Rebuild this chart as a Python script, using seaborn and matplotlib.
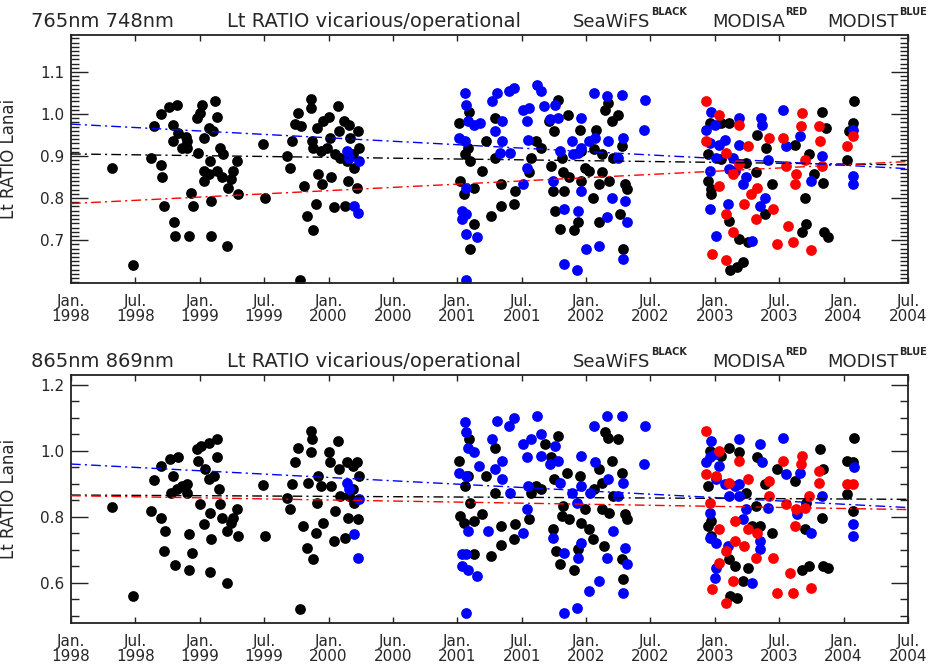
import matplotlib
matplotlib.use("Agg")
import matplotlib.pyplot as plt
import pandas as pd
import seaborn as sns
from matplotlib.ticker import MultipleLocator, FixedLocator, FormatStrFormatter

sns.set_style("white")
plt.rcParams['font.family'] = ['DejaVu Sans']
plt.rcParams['mathtext.fontset'] = 'dejavusans'

# ---------------- tick labels ----------------
tick_years = [1998.0, 1998.5, 1999.0, 1999.5, 2000.0, 2000.5, 2001.0,
              2001.5, 2002.0, 2002.5, 2003.0, 2003.5, 2004.0, 2004.5]
tick_labels = ["Jan.\n1998", "Jul.\n1998", "Jan.\n1999", "Jul.\n1999", "Jan.\n2000",
               "Jun.\n2000", "Jan.\n2001", "Jul.\n2001", "Jan.\n2002", "Jul.\n2002",
               "Jan.\n2003", "Jul.\n2003", "Jan.\n2004", "Jul.\n2004"]

# ---------------- top panel (765nm 748nm) ----------------
top_seawifs = [
    (1998.32, 0.871), (1998.48, 0.640), (1998.62, 0.896), (1998.645, 0.972), (1998.70, 0.879),
    (1998.70, 1.000), (1998.71, 0.849), (1998.72, 0.782), (1998.76, 1.017), (1998.79, 0.975),
    (1998.82, 1.022), (1998.79, 0.935), (1998.80, 0.742), (1998.81, 0.711), (1998.83, 0.955),
    (1998.86, 0.920), (1998.90, 0.935), (1998.93, 0.813), (1998.945, 0.782), (1998.92, 0.711),
    (1998.98, 0.990), (1998.99, 0.908), (1999.00, 1.002), (1999.02, 1.022), (1999.03, 0.943),
    (1999.03, 0.841), (1999.07, 0.967), (1999.08, 0.888), (1999.085, 0.711), (1999.09, 0.794),
    (1999.10, 0.959), (1999.12, 1.031), (1999.13, 0.994), (1999.13, 0.865), (1999.16, 0.920),
    (1999.17, 0.849), (1999.18, 0.904), (1999.21, 0.687), (1999.22, 0.825), (1999.24, 0.845),
    (1999.26, 0.865), (1999.29, 0.888), (1999.30, 0.809), (1999.03, 0.865), (1999.07, 0.857),
    (1998.90, 0.920), (1998.89, 0.945), (1999.49, 0.929), (1999.51, 0.800), (1999.68, 0.900),
    (1999.70, 0.872), (1999.72, 0.935), (1999.74, 0.976), (1999.76, 1.002), (1999.78, 0.605),
    (1999.79, 0.971), (1999.81, 0.829), (1999.83, 0.758), (1999.86, 1.014), (1999.86, 1.036),
    (1999.87, 0.935), (1999.88, 0.724), (1999.90, 0.786), (1999.88, 0.920), (1999.91, 0.967),
    (1999.92, 0.857), (1999.95, 0.833), (1999.96, 0.983), (1999.99, 0.920), (2000.00, 0.994),
    (2000.01, 0.943), (2000.02, 0.849), (2000.04, 0.778), (2000.05, 0.904), (2000.07, 1.018),
    (2000.08, 0.959), (2000.09, 0.896), (2000.12, 0.983), (2000.13, 0.782), (2000.14, 0.888),
    (2000.15, 0.841), (2000.16, 0.975), (2000.17, 0.943), (2000.20, 0.872), (2000.22, 0.825),
    (2000.23, 0.959), (2000.24, 0.920), (2000.19, 0.904), (1999.94, 0.912),
    (2001.01, 0.979), (2001.02, 0.841), (2001.05, 0.810),
    (2001.06, 0.904), (2001.08, 0.920), (2001.09, 1.006), (2001.10, 0.888), (2001.13, 0.825),
    (2001.13, 0.738), (2001.10, 0.680), (2001.19, 0.865), (2001.22, 0.935), (2001.26, 0.758),
    (2001.29, 0.990), (2001.29, 0.896), (2001.34, 0.833), (2001.34, 0.782), (2001.44, 0.786),
    (2001.45, 0.817), (2001.56, 0.861), (2001.57, 0.896), (2001.61, 0.935), (2001.65, 0.920),
    (2001.71, 0.983), (2001.73, 0.876), (2001.74, 0.817), (2001.75, 0.959), (2001.76, 0.770),
    (2001.78, 1.034), (2001.80, 0.727), (2001.81, 0.896), (2001.82, 0.861), (2001.83, 0.817),
    (2001.86, 0.998), (2001.87, 0.849), (2001.91, 0.723), (2001.94, 0.742), (2001.95, 0.963),
    (2001.96, 0.841), (2001.99, 0.872), (2002.02, 0.865), (2002.05, 0.800), (2002.06, 0.916),
    (2002.08, 0.963), (2002.10, 0.833), (2002.10, 0.742), (2002.12, 0.861), (2002.15, 1.010),
    (2002.17, 1.026), (2002.18, 0.841), (2002.20, 0.983), (2002.21, 0.896), (2002.25, 0.998),
    (2002.26, 0.762), (2002.28, 0.924), (2002.30, 0.833), (2002.32, 0.821), (2002.29, 0.680),
    (2001.96, 0.912), (2002.12, 0.904),
    (2002.96, 0.979), (2002.95, 0.904), (2002.95, 0.841), (2002.97, 0.821), (2002.97, 0.809),
    (2003.05, 0.979), (2003.11, 0.979), (2003.11, 0.746), (2003.12, 0.628), (2003.17, 0.636),
    (2003.22, 0.648), (2003.19, 0.703), (2003.26, 0.695), (2003.33, 0.951), (2003.32, 0.861),
    (2003.39, 0.762), (2003.40, 0.920), (2003.44, 0.833), (2003.62, 0.927), (2003.70, 0.800),
    (2003.73, 0.904), (2003.71, 0.738), (2003.68, 0.719), (2003.77, 0.857), (2003.83, 1.006),
    (2003.84, 0.837), (2003.85, 0.719), (2003.88, 0.707), (2003.86, 0.967), (2004.03, 0.891),
    (2004.07, 0.979), (2004.08, 1.032), (2004.04, 0.959), (2003.24, 0.884), (2003.05, 0.892),
]
top_modisa = [
    (2002.93, 1.030), (2003.03, 0.998), (2002.93, 0.935), (2002.98, 0.668), (2003.09, 0.652),
    (2003.03, 0.829), (2003.09, 0.762), (2003.14, 0.719), (2003.19, 0.975), (2003.23, 0.786),
    (2003.26, 0.924), (2003.28, 0.809), (2003.32, 0.750), (2003.33, 0.825), (2003.42, 0.943),
    (2003.45, 0.774), (2003.48, 0.691), (2003.53, 0.943), (2003.55, 0.876), (2003.57, 0.734),
    (2003.61, 0.695), (2003.62, 0.833), (2003.63, 0.857), (2003.67, 0.971), (2003.68, 1.002),
    (2003.70, 0.891), (2003.75, 0.676), (2003.81, 0.971), (2003.82, 0.935), (2003.83, 0.876),
    (2004.03, 0.924), (2004.07, 0.947), (2003.09, 0.908), (2003.19, 0.880), (2003.14, 0.857),
]
top_modist = [
    (2000.14, 0.912), (2000.16, 0.896), (2000.24, 0.888), (2000.20, 0.782), (2000.23, 0.764),
    (2001.01, 0.943), (2001.04, 0.770), (2001.04, 0.750),
    (2001.06, 1.050), (2001.07, 1.022), (2001.08, 0.983), (2001.13, 0.975), (2001.18, 0.979),
    (2001.06, 0.935), (2001.07, 0.825), (2001.07, 0.762), (2001.07, 0.715), (2001.15, 0.707),
    (2001.07, 0.606), (2001.27, 1.030), (2001.31, 1.050), (2001.29, 0.959), (2001.35, 0.983),
    (2001.35, 0.935), (2001.40, 1.054), (2001.44, 1.062), (2001.33, 0.908), (2001.41, 0.908),
    (2001.51, 1.010), (2001.54, 0.983), (2001.56, 1.014), (2001.62, 1.069), (2001.65, 1.054),
    (2001.67, 1.018), (2001.55, 0.939), (2001.54, 0.872), (2001.51, 0.833), (2001.72, 0.987),
    (2001.76, 1.022), (2001.78, 0.990), (2001.74, 0.841), (2001.80, 0.912), (2001.83, 0.774),
    (2001.83, 0.644), (2001.89, 0.935), (2001.90, 0.904), (2001.93, 0.628), (2001.94, 0.770),
    (2001.96, 0.817), (2001.96, 0.990), (2002.00, 0.680), (2002.02, 0.935), (2002.06, 1.050),
    (2002.07, 0.943), (2002.10, 0.687), (2002.16, 1.042), (2002.17, 0.935), (2002.20, 0.800),
    (2002.28, 1.046), (2002.29, 0.943), (2002.30, 0.794), (2002.29, 0.655), (2002.32, 0.742),
    (2002.16, 0.754), (2002.46, 1.034), (2002.45, 0.963), (2002.25, 0.896), (2001.94, 0.908),
    (2001.96, 0.920),
    (2002.97, 1.006), (2002.93, 0.963), (2002.96, 0.931), (2003.00, 0.975), (2003.01, 0.896),
    (2002.96, 0.865), (2002.96, 0.774), (2003.01, 0.711), (2003.10, 0.786), (2003.03, 0.927),
    (2003.08, 0.939), (2003.11, 0.869), (2003.19, 0.990), (2003.19, 0.927), (2003.22, 0.833),
    (2003.24, 0.849), (2003.29, 0.699), (2003.36, 0.990), (2003.37, 0.975), (2003.39, 0.800),
    (2003.35, 0.782), (2003.41, 0.891), (2003.53, 1.010), (2003.55, 0.924), (2003.66, 0.947),
    (2003.83, 0.900), (2003.75, 0.841), (2004.07, 0.963), (2004.07, 0.853), (2004.07, 0.833),
    (2003.14, 0.896), (2003.16, 0.865),
]

# ---------------- bottom panel (865nm 869nm) ----------------
bot_seawifs = [
    (1998.32, 0.831), (1998.48, 0.560), (1998.62, 0.818), (1998.645, 0.912), (1998.70, 0.797),
    (1998.70, 0.954), (1998.73, 0.757), (1998.72, 0.696), (1998.77, 0.975), (1998.79, 0.924),
    (1998.81, 0.653), (1998.78, 0.873), (1998.83, 0.980), (1998.86, 0.894), (1998.90, 0.899),
    (1998.92, 0.747), (1998.94, 0.689), (1998.92, 0.640), (1998.98, 1.005), (1998.99, 0.970),
    (1999.00, 0.838), (1999.01, 1.015), (1999.03, 0.777), (1999.04, 0.944), (1999.07, 1.025),
    (1999.08, 0.813), (1999.08, 0.632), (1999.09, 0.732), (1999.11, 0.924), (1999.13, 1.035),
    (1999.13, 0.980), (1999.15, 0.884), (1999.16, 0.838), (1999.17, 0.797), (1999.21, 0.600),
    (1999.21, 0.757), (1999.24, 0.782), (1999.26, 0.797), (1999.29, 0.823), (1999.30, 0.742),
    (1999.07, 0.914), (1998.90, 0.873), (1998.82, 0.884), (1999.49, 0.896), (1999.51, 0.742),
    (1999.68, 0.858), (1999.70, 0.823), (1999.72, 0.899), (1999.74, 0.965), (1999.76, 1.010),
    (1999.78, 0.519), (1999.80, 0.772), (1999.83, 0.706), (1999.86, 1.060), (1999.87, 1.035),
    (1999.88, 0.673), (1999.86, 0.995), (1999.84, 0.904), (1999.90, 0.752), (1999.91, 0.843),
    (1999.92, 0.924), (1999.96, 0.782), (2000.00, 0.995), (2000.01, 0.965), (2000.02, 0.894),
    (2000.04, 0.727), (2000.05, 0.818), (2000.07, 1.030), (2000.08, 0.944), (2000.09, 0.863),
    (2000.13, 0.737), (2000.14, 0.965), (2000.15, 0.797), (2000.16, 0.863), (2000.19, 0.954),
    (2000.20, 0.843), (2000.22, 0.965), (2000.23, 0.792), (2000.24, 0.924), (2000.19, 0.884),
    (1999.94, 0.894),
    (2001.01, 0.970), (2001.02, 0.803), (2001.05, 0.782),
    (2001.06, 0.894), (2001.08, 0.924), (2001.09, 1.035), (2001.10, 0.843), (2001.13, 0.787),
    (2001.13, 0.686), (2001.19, 0.808), (2001.22, 0.924), (2001.26, 0.681), (2001.29, 1.010),
    (2001.29, 0.873), (2001.34, 0.772), (2001.34, 0.716), (2001.44, 0.732), (2001.45, 0.777),
    (2001.56, 0.792), (2001.57, 0.873), (2001.61, 0.894), (2001.65, 0.884), (2001.68, 1.020),
    (2001.73, 0.980), (2001.74, 0.762), (2001.75, 0.914), (2001.77, 0.696), (2001.78, 1.046),
    (2001.80, 0.656), (2001.81, 0.803), (2001.82, 0.833), (2001.85, 0.934), (2001.87, 0.792),
    (2001.91, 0.640), (2001.94, 0.701), (2001.95, 0.924), (2001.96, 0.782), (2001.99, 0.823),
    (2002.02, 0.762), (2002.05, 0.732), (2002.06, 0.884), (2002.10, 0.944), (2002.12, 0.823),
    (2002.14, 0.711), (2002.15, 1.056), (2002.17, 1.040), (2002.18, 0.813), (2002.20, 0.970),
    (2002.21, 0.863), (2002.25, 1.035), (2002.28, 0.671), (2002.28, 0.934), (2002.30, 0.808),
    (2002.32, 0.792), (2002.29, 0.610), (2002.12, 0.904),
    (2002.96, 1.000), (2002.95, 0.894), (2002.95, 0.772), (2002.97, 0.787), (2002.97, 0.742),
    (2003.05, 0.985), (2003.11, 1.010), (2003.11, 0.671), (2003.12, 0.559), (2003.17, 0.554),
    (2003.16, 0.650), (2003.22, 0.605), (2003.26, 0.646), (2003.19, 0.995), (2003.33, 0.980),
    (2003.32, 0.833), (2003.35, 0.772), (2003.39, 0.899), (2003.44, 0.752), (2003.48, 0.944),
    (2003.62, 0.909), (2003.68, 0.640), (2003.70, 0.762), (2003.73, 0.650), (2003.71, 0.843),
    (2003.82, 1.005), (2003.84, 0.944), (2003.83, 0.797), (2003.84, 0.650), (2003.88, 0.646),
    (2004.03, 0.970), (2004.07, 0.965), (2004.03, 0.868), (2004.07, 0.818), (2004.08, 1.040),
    (2003.29, 0.772), (2003.24, 0.873),
]
bot_modisa = [
    (2002.93, 1.061), (2003.03, 1.000), (2002.93, 0.929), (2002.98, 0.580), (2003.09, 0.539),
    (2003.03, 0.762), (2003.03, 0.661), (2003.09, 0.696), (2003.14, 0.605), (2003.19, 0.970),
    (2003.16, 0.727), (2003.23, 0.711), (2003.26, 0.914), (2003.26, 0.762), (2003.32, 0.676),
    (2003.33, 0.752), (2003.42, 0.909), (2003.45, 0.676), (2003.48, 0.570), (2003.53, 0.970),
    (2003.55, 0.838), (2003.58, 0.630), (2003.61, 0.570), (2003.62, 0.772), (2003.63, 0.823),
    (2003.67, 0.960), (2003.68, 0.985), (2003.70, 0.828), (2003.75, 0.585), (2003.81, 0.939),
    (2003.81, 0.904), (2004.03, 0.899), (2004.07, 0.899), (2002.96, 0.843), (2003.01, 0.924),
    (2003.11, 0.904), (2003.16, 0.787), (2003.42, 0.863), (2003.73, 0.863),
]
bot_modist = [
    (2000.14, 0.904), (2000.16, 0.884), (2000.24, 0.853), (2000.20, 0.747), (2000.23, 0.676),
    (2001.01, 0.932), (2001.04, 0.686), (2001.04, 0.650),
    (2001.06, 1.086), (2001.07, 1.056), (2001.08, 1.010), (2001.13, 0.995), (2001.17, 0.954),
    (2001.07, 0.924), (2001.08, 0.757), (2001.07, 0.686), (2001.08, 0.640), (2001.15, 0.620),
    (2001.07, 0.509), (2001.27, 1.035), (2001.31, 1.091), (2001.29, 0.944), (2001.35, 0.970),
    (2001.35, 0.914), (2001.40, 1.076), (2001.44, 1.101), (2001.41, 0.873), (2001.24, 0.757),
    (2001.51, 1.020), (2001.54, 0.980), (2001.57, 1.035), (2001.62, 1.106), (2001.65, 1.050),
    (2001.65, 0.985), (2001.55, 0.894), (2001.54, 0.823), (2001.51, 0.752), (2001.72, 0.960),
    (2001.76, 1.015), (2001.78, 0.970), (2001.74, 0.737), (2001.80, 0.904), (2001.83, 0.691),
    (2001.83, 0.509), (2001.89, 0.873), (2001.93, 0.524), (2001.94, 0.676), (2001.96, 0.722),
    (2001.96, 0.985), (2002.02, 0.575), (2002.03, 0.873), (2002.06, 1.076), (2002.07, 0.965),
    (2002.10, 0.605), (2002.16, 1.106), (2002.17, 0.914), (2002.21, 0.757), (2002.28, 1.106),
    (2002.29, 0.904), (2002.30, 0.706), (2002.29, 0.570), (2002.32, 0.656), (2002.16, 0.676),
    (2002.46, 1.076), (2002.45, 0.960), (2002.25, 0.863), (2001.96, 0.894), (2001.93, 0.843),
    (2002.97, 1.030), (2002.93, 0.965), (2002.96, 0.980), (2003.00, 0.990), (2003.01, 0.914),
    (2002.96, 0.813), (2002.96, 0.737), (2003.01, 0.722), (2003.01, 0.646), (2003.00, 0.615),
    (2003.10, 0.711), (2003.03, 0.954), (2003.08, 0.899), (2003.11, 0.863), (2003.19, 1.035),
    (2003.19, 0.899), (2003.22, 0.792), (2003.24, 0.823), (2003.29, 0.600), (2003.35, 1.020),
    (2003.37, 0.965), (2003.35, 0.727), (2003.35, 0.701), (2003.41, 0.828), (2003.53, 1.040),
    (2003.55, 0.929), (2003.66, 0.934), (2003.64, 0.808), (2003.75, 0.752), (2003.83, 0.863),
    (2004.08, 0.950), (2004.07, 0.777), (2004.07, 0.742), (2003.16, 0.894), (2003.19, 0.863),
]

# linear-fit trend values at the plot's x range ends (1998.0 and 2004.5)
trend_years = [1998.0, 2004.5]
top_trend = {"SeaWiFS": [0.905, 0.879], "MODISA": [0.787, 0.887], "MODIST": [0.976, 0.870]}
bot_trend = {"SeaWiFS": [0.866, 0.853], "MODISA": [0.864, 0.822], "MODIST": [0.960, 0.828]}

colors = {"SeaWiFS": "#000000", "MODISA": "#ff0000", "MODIST": "#0000ff"}
sensor_sup = [("SeaWiFS", "BLACK", 573), ("MODISA", "RED", 712), ("MODIST", "BLUE", 827)]

W, H = 936, 666
fig = plt.figure(figsize=(W / 100, H / 100), dpi=100)
renderer = fig.canvas.get_renderer()

panels = [
    dict(box=(71, 35, 908, 283), band="765nm 748nm",
         data={"SeaWiFS": top_seawifs, "MODISA": top_modisa, "MODIST": top_modist},
         trend=top_trend, ylim=(0.598, 1.188), major=[0.7, 0.8, 0.9, 1.0, 1.1],
         minor=0.01, title_base=27),
    dict(box=(71, 375, 908, 623), band="865nm 869nm",
         data={"SeaWiFS": bot_seawifs, "MODISA": bot_modisa, "MODIST": bot_modist},
         trend=bot_trend, ylim=(0.478, 1.230), major=[0.6, 0.8, 1.0, 1.2],
         minor=0.05, title_base=367),
]

for p in panels:
    x0, y0, x1, y1 = p["box"]
    ax = fig.add_axes([x0 / W, 1 - y1 / H, (x1 - x0) / W, (y1 - y0) / H])
    for name in ["SeaWiFS", "MODIST", "MODISA"]:
        df = pd.DataFrame(p["data"][name], columns=["year", "ratio"])
        sns.scatterplot(data=df, x="year", y="ratio", color=colors[name], s=60,
                        linewidth=0, marker="o", ax=ax, legend=False, zorder=2)
    for name in ["SeaWiFS", "MODISA", "MODIST"]:
        sns.lineplot(x=trend_years, y=p["trend"][name], color=colors[name], lw=1.0,
                     linestyle=(0, (7, 3, 1.5, 3)), ax=ax, zorder=3)
    ax.set_xlim(1998.0, 2004.5)
    ax.set_ylim(*p["ylim"])
    ax.xaxis.set_major_locator(FixedLocator(tick_years))
    ax.set_xticklabels(tick_labels, fontsize=11, linespacing=1.0)
    ax.yaxis.set_major_locator(FixedLocator(p["major"]))
    ax.yaxis.set_minor_locator(MultipleLocator(p["minor"]))
    ax.yaxis.set_major_formatter(FormatStrFormatter("%.1f"))
    ax.tick_params(axis="y", which="major", direction="in", length=12.5, width=1.0,
                   left=True, right=True, labelsize=11, pad=5, color="#222222")
    ax.tick_params(axis="y", which="minor", direction="in", length=6, width=1.0,
                   left=True, right=True, color="#222222")
    ax.tick_params(axis="x", which="major", direction="in", length=4, width=1.0,
                   top=True, bottom=True, labelsize=11, pad=8, color="#222222")
    ax.set_xlabel("")
    ax.set_ylabel("Lt RATIO Lanai", fontsize=12)
    ax.yaxis.set_label_coords((18 - x0) / (x1 - x0), 0.5)
    for s in ax.spines.values():
        s.set_linewidth(1.3)
        s.set_color("#222222")
    ax.grid(False)

    base = p["title_base"]
    yb = 1 - base / H
    fig.text(31 / W, yb, p["band"], fontsize=14, va="baseline")
    fig.text(227 / W, yb, "Lt RATIO vicarious/operational", fontsize=14, va="baseline")
    for word, sup, xpix in sensor_sup:
        t = fig.text(xpix / W, yb, word, fontsize=13, va="baseline")
        bb = t.get_window_extent(renderer)
        fig.text((bb.x1 + 0.5) / W, 1 - (base - 12) / H, sup, fontsize=7,
                 fontweight="bold", va="baseline")

fig.savefig("out.png", dpi=100, facecolor="white")
